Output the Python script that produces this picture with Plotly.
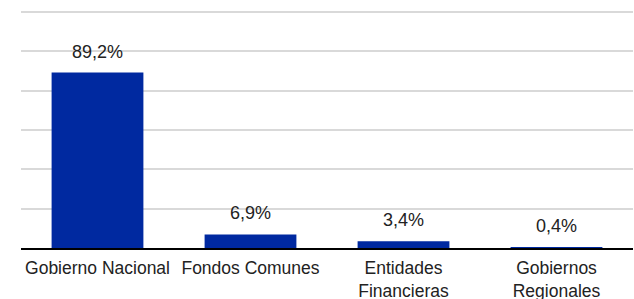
import plotly.graph_objects as go

categories = ["Gobierno Nacional", "Fondos Comunes", "Entidades<br>Financieras", "Gobiernos<br>Regionales"]
values = [89.2, 6.9, 3.4, 0.4]
labels = ["89,2%", "6,9%", "3,4%", "0,4%"]

BAR = "#0029a0"
FONT = "Liberation Sans, Arial, sans-serif"

fig = go.Figure()
fig.add_trace(go.Bar(x=categories, y=values, marker=dict(color=BAR, line=dict(width=0)),
                     width=0.6, hoverinfo="skip"))

for c, v, t in zip(categories, values, labels):
    fig.add_annotation(x=c, y=v, text=t, showarrow=False, yanchor="bottom",
                       yshift=9, font=dict(family=FONT, size=18, color="#222222"))

fig.update_layout(
    width=634, height=299,
    margin=dict(l=21, r=1, t=10, b=51, autoexpand=False),
    paper_bgcolor="white", plot_bgcolor="white",
    showlegend=False,
    font=dict(family=FONT, size=18, color="#222222"),
    bargap=0.4,
)
fig.update_yaxes(range=[0, 121], dtick=20, showticklabels=False, showgrid=True,
                 gridcolor="#d9d9d9", gridwidth=1.5, zeroline=False, fixedrange=True,
                 automargin=False)
fig.update_xaxes(showline=True, linecolor="#000000", linewidth=2, ticks="",
                 ticklabelstandoff=3, automargin=False,
                 tickfont=dict(family=FONT, size=17.5, color="#222222"), fixedrange=True)

fig.write_html("out.html", config={"displayModeBar": False},
               post_script="document.body.style.margin='0px';document.body.style.overflow='hidden';")
